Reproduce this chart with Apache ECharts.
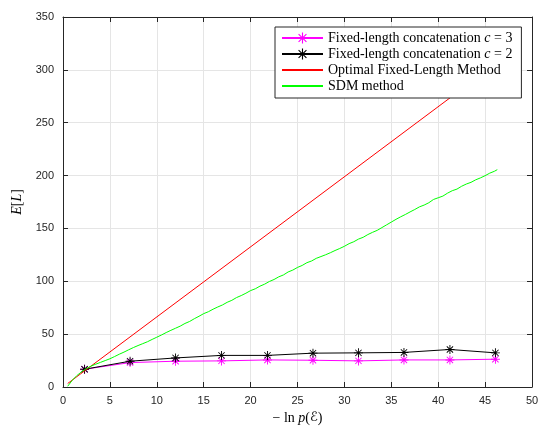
<!DOCTYPE html>
<html>
<head>
<meta charset="utf-8">
<script src="https://cdn.jsdelivr.net/npm/echarts@6/dist/echarts.min.js"></script>
<style>
  html, body { margin: 0; padding: 0; background: #fff; }
  #main { width: 539px; height: 429px; }
</style>
</head>
<body>
<div id="main"></div>
<script>
// fixed-length concatenation, marker positions
const concatX = [2.3, 7.15, 12.0, 16.9, 21.8, 26.65, 31.5, 36.35, 41.25, 46.1];
const concatC3 = [16.8, 23.1, 24.4, 24.7, 25.6, 25.3, 24.7, 25.6, 25.6, 26.3];
const concatC2 = [16.8, 24.4, 27.5, 29.9, 29.9, 32.0, 32.3, 32.7, 35.5, 32.3];

// optimal fixed-length method (straight line)
const optimalX = [0.5, 46.1];
const optimalY = [3.3, 305.6];

// SDM method (noisy curve)
const sdmX = [0.5, 1.0, 1.5, 2.0, 2.5, 3.0, 3.5, 4.0, 4.5, 5.0, 5.5, 6.0, 6.5, 7.0, 7.5, 8.0, 8.5, 9.0, 9.5, 10.0,
  10.5, 11.0, 11.5, 12.0, 12.5, 13.0, 13.5, 14.0, 14.5, 15.0, 15.5, 16.0, 16.5, 17.0, 17.5, 18.0, 18.5, 19.0, 19.5, 20.0,
  20.5, 21.0, 21.5, 22.0, 22.5, 23.0, 23.5, 24.0, 24.5, 25.0, 25.5, 26.0, 26.5, 27.0, 27.5, 28.0, 28.5, 29.0, 29.5, 30.0,
  30.5, 31.0, 31.5, 32.0, 32.5, 33.0, 33.5, 34.0, 34.5, 35.0, 35.5, 36.0, 36.5, 37.0, 37.5, 38.0, 38.5, 39.0, 39.5, 40.0,
  40.5, 41.0, 41.5, 42.0, 42.5, 43.0, 43.5, 44.0, 44.5, 45.0, 45.5, 46.0, 46.3];
const sdmY = [0.7, 6.5, 11.0, 14.5, 17.5, 19.8, 21.6, 23.3, 25.0, 26.7, 28.8, 31.0, 33.0, 35.2, 37.3, 39.2, 41.0, 42.8, 45.0, 47.1,
  49.2, 51.5, 53.6, 55.6, 57.6, 60.1, 62.0, 64.6, 66.9, 69.4, 71.2, 73.6, 75.7, 77.6, 80.1, 82.0, 84.6, 86.5, 88.7, 91.2,
  92.9, 95.4, 97.3, 99.8, 101.7, 104.2, 106.0, 108.8, 110.6, 113.1, 115.0, 117.6, 119.2, 121.7, 123.4, 125.1, 127.0, 129.1, 131.0, 133.1,
  135.6, 137.4, 139.9, 141.6, 144.2, 146.3, 148.2, 150.8, 153.4, 156.0, 158.6, 161.0, 163.2, 165.6, 167.9, 170.4, 172.1, 174.3, 177.4, 179.0,
  180.6, 183.4, 185.7, 187.2, 189.9, 192.0, 193.6, 196.0, 197.8, 199.9, 202.3, 204.1, 205.6];

const xTicks = [0, 5, 10, 15, 20, 25, 30, 35, 40, 45, 50];
const yTicks = [0, 50, 100, 150, 200, 250, 300, 350];

const legendNames = ['Fixed-length concatenation c3', 'Fixed-length concatenation c2', 'Optimal Fixed-Length Method', 'SDM method'];

// matlab-like '*' marker
const star = 'path://M0 45L100 45L100 55L0 55ZM45 0L55 0L55 100L45 100ZM11.5 18.5L18.5 11.5L88.5 81.5L81.5 88.5ZM81.5 11.5L88.5 18.5L18.5 88.5L11.5 81.5Z';

const pairs = (xs, ys) => xs.map((x, i) => [x, ys[i]]);
const axisColor = '#262626';
const serif = '"Liberation Serif", "DejaVu Serif", serif';

const myChart = echarts.init(document.getElementById('main'), null, { renderer: 'canvas' });

const setOption = () => {
  const baseX = {
    type: 'value',
    min: xTicks[0],
    max: xTicks[xTicks.length - 1],
    interval: 5,
  };
  const baseY = {
    type: 'value',
    min: yTicks[0],
    max: yTicks[yTicks.length - 1],
    interval: 50,
  };
  return {
    animation: false,
    backgroundColor: '#fff',
    grid: { left: 63, right: 7, top: 17, bottom: 42, containLabel: false, outerBoundsMode: 'none' },
    legend: {
      orient: 'vertical',
      left: 275,
      top: 27,
      z: 20,
      backgroundColor: '#fff',
      borderColor: axisColor,
      borderWidth: 1,
      borderRadius: 0,
      padding: [4, 9, 5, 6],
      itemGap: 2,
      itemWidth: 41,
      itemHeight: 14,
      data: [
        { name: legendNames[0] },
        { name: legendNames[1] },
        { name: legendNames[2], itemStyle: { opacity: 0 } },
        { name: legendNames[3], itemStyle: { opacity: 0 } },
      ],
      formatter: (name) => {
        if (name === legendNames[0]) return 'Fixed-length concatenation {i|c} = 3';
        if (name === legendNames[1]) return 'Fixed-length concatenation {i|c} = 2';
        return name;
      },
      textStyle: {
        fontFamily: serif,
        fontSize: 14,
        color: '#000',
        rich: {
          i: { fontFamily: serif, fontSize: 14, fontStyle: 'italic', color: '#000' },
        },
      },
    },
    xAxis: [
      {
        ...baseX,
        position: 'bottom',
        name: '{a|− ln }{i|p}{a|(}{s|ℰ}{a|)}',
        nameLocation: 'middle',
        nameGap: 24,
        nameTextStyle: {
          rich: {
            a: { fontFamily: serif, fontSize: 14, color: '#000' },
            i: { fontFamily: serif, fontSize: 14, fontStyle: 'italic', color: '#000' },
            s: { fontFamily: '"DejaVu Sans", "Noto Sans", sans-serif', fontSize: 13, color: '#000' },
          },
        },
        axisLine: { show: true, lineStyle: { color: axisColor, width: 1 } },
        axisTick: { show: true, inside: true, length: 5, lineStyle: { color: axisColor } },
        axisLabel: { color: axisColor, fontSize: 11, fontFamily: 'Liberation Sans, Arial, sans-serif', margin: 8 },
        splitLine: { show: true, lineStyle: { color: '#e5e5e5', width: 1 } },
      },
      {
        ...baseX,
        position: 'top',
        axisLine: { show: true, onZero: false, lineStyle: { color: axisColor, width: 1 } },
        axisTick: { show: true, inside: true, length: 5, lineStyle: { color: axisColor } },
        axisLabel: { show: false },
        splitLine: { show: false },
      },
    ],
    yAxis: [
      {
        ...baseY,
        position: 'left',
        name: '{i|E}{a|[}{i|L}{a|]}',
        nameLocation: 'middle',
        nameGap: 38,
        nameRotate: 90,
        nameTextStyle: {
          rich: {
            a: { fontFamily: serif, fontSize: 14, color: '#000' },
            i: { fontFamily: serif, fontSize: 14, fontStyle: 'italic', color: '#000' },
          },
        },
        axisLine: { show: true, onZero: false, lineStyle: { color: axisColor, width: 1 } },
        axisTick: { show: true, inside: true, length: 5, lineStyle: { color: axisColor } },
        axisLabel: { color: axisColor, fontSize: 11, fontFamily: 'Liberation Sans, Arial, sans-serif', margin: 9 },
        splitLine: { show: true, lineStyle: { color: '#e5e5e5', width: 1 } },
      },
      {
        ...baseY,
        position: 'right',
        axisLine: { show: true, onZero: false, lineStyle: { color: axisColor, width: 1 } },
        axisTick: { show: true, inside: true, length: 5, lineStyle: { color: axisColor } },
        axisLabel: { show: false },
        splitLine: { show: false },
      },
    ],
    series: [
      {
        name: legendNames[0],
        type: 'line',
        xAxisIndex: 0,
        yAxisIndex: 0,
        data: pairs(concatX, concatC3),
        symbol: star,
        symbolSize: 9,
        itemStyle: { color: '#ff00ff', borderWidth: 0 },
        lineStyle: { color: '#ff00ff', width: 1 },
        z: 2,
      },
      {
        name: legendNames[1],
        type: 'line',
        xAxisIndex: 0,
        yAxisIndex: 0,
        data: pairs(concatX, concatC2),
        symbol: star,
        symbolSize: 9,
        itemStyle: { color: '#000', borderWidth: 0 },
        lineStyle: { color: '#000', width: 1 },
        z: 3,
      },
      {
        name: legendNames[2],
        type: 'line',
        xAxisIndex: 0,
        yAxisIndex: 0,
        data: pairs(optimalX, optimalY),
        symbol: 'none',
        itemStyle: { color: '#ff0000' },
        lineStyle: { color: '#ff0000', width: 1 },
        z: 4,
      },
      {
        name: legendNames[3],
        type: 'line',
        xAxisIndex: 0,
        yAxisIndex: 0,
        data: pairs(sdmX, sdmY),
        symbol: 'none',
        itemStyle: { color: '#00ff00' },
        lineStyle: { color: '#00ff00', width: 1 },
        z: 5,
      },
    ],
  };
};

myChart.setOption(setOption());
</script>
</body>
</html>
